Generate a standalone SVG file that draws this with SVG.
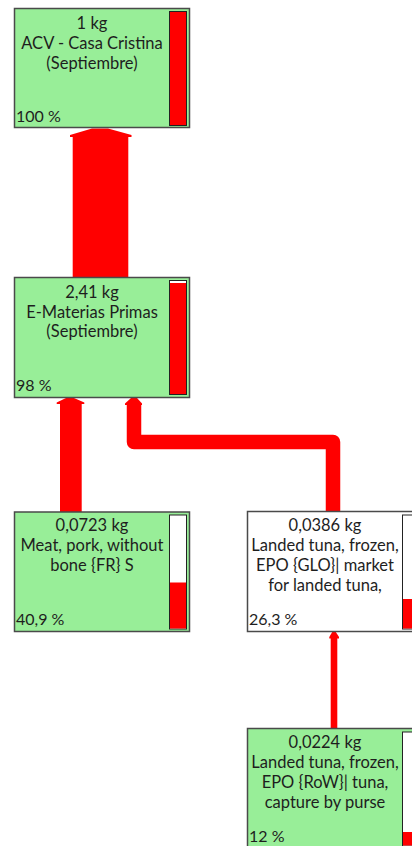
<svg xmlns="http://www.w3.org/2000/svg" width="412" height="846" viewBox="0 0 412 846">
<style>
.box{stroke:#4a4a4a;stroke-width:1.5}
.g{fill:#98ee98}
.w{fill:#ffffff}
.barbg{fill:#ffffff;stroke:#222;stroke-width:1}
.bar{fill:#ff0000}
.t{font-family:Lato,"Noto Sans",sans-serif;font-size:16.5px;fill:#1e1e1e;text-anchor:middle}
.p{font-family:Lato,"Noto Sans",sans-serif;font-size:16px;fill:#1e1e1e}
.flow{fill:#ff0000}
.line{fill:none;stroke:#ff0000;stroke-linejoin:round}
</style>
<rect width="412" height="846" fill="#ffffff"/>
<g id="connectors">
  <polygon class="flow" points="72.7,278 72.7,137 70,137 70,135 92,128.5 108,128.5 131.5,135 131.5,137 128.3,137 128.3,278"/>
  <polygon class="flow" points="60,513 60,404 56.7,404 56.7,402.5 66,398 74,398 84.3,402.5 84.3,404 81.7,404 81.7,513"/>
  <path class="line" stroke-width="14.5" d="M333,512 V442 H134 V404"/>
  <polygon class="flow" points="125,405 125,403.5 131,398 137,398 142,403.5 142,405"/>
  <rect class="flow" x="330.7" y="637" width="6.6" height="92"/>
  <polygon class="flow" points="329.3,638.5 329.3,637 332.5,631.5 335.5,631.5 339,637 339,638.5"/>
</g>
<g id="node1">
  <rect class="box g" x="14.5" y="8.5" width="175" height="119"/>
  <rect class="barbg" x="169.5" y="11.5" width="17" height="114"/>
  <rect class="bar" x="170" y="12" width="16" height="113"/>
  <text class="t" x="92" y="29">1 kg</text>
  <text class="t" x="92" y="49">ACV - Casa Cristina</text>
  <text class="t" x="92" y="68.5">(Septiembre)</text>
  <text class="p" x="16" y="122">100 %</text>
</g>
<g id="node2">
  <rect class="box g" x="14.5" y="277.5" width="175" height="120"/>
  <rect class="barbg" x="169.5" y="280.5" width="17" height="114"/>
  <rect class="bar" x="170" y="283" width="16" height="111"/>
  <text class="t" x="92" y="297.5">2,41 kg</text>
  <text class="t" x="92" y="317.5">E-Materias Primas</text>
  <text class="t" x="92" y="337">(Septiembre)</text>
  <text class="p" x="16" y="391">98 %</text>
</g>
<g id="node3">
  <rect class="box g" x="14.5" y="512" width="175" height="119.5"/>
  <rect class="barbg" x="169.5" y="515" width="17" height="114"/>
  <rect class="bar" x="170" y="582.5" width="16" height="46"/>
  <text class="t" x="92" y="531">0,0723 kg</text>
  <text class="t" x="92" y="551">Meat, pork, without</text>
  <text class="t" x="92" y="571">bone {FR} S</text>
  <text class="p" x="16" y="624.5">40,9 %</text>
</g>
<g id="node4">
  <rect class="box w" x="247.5" y="511.5" width="175" height="120"/>
  <rect class="barbg" x="402.5" y="515" width="17" height="114"/>
  <rect class="bar" x="403" y="599" width="16" height="29.5"/>
  <text class="t" x="325" y="531">0,0386 kg</text>
  <text class="t" x="325" y="551">Landed tuna, frozen,</text>
  <text class="t" x="325" y="571">EPO {GLO}| market</text>
  <text class="t" x="325" y="591">for landed tuna,</text>
  <text class="p" x="249" y="624.5">26,3 %</text>
</g>
<g id="node5">
  <rect class="box g" x="247.5" y="728.5" width="175" height="120"/>
  <rect class="barbg" x="402.5" y="732" width="17" height="114"/>
  <rect class="bar" x="403" y="832" width="16" height="13.5"/>
  <text class="t" x="325" y="748">0,0224 kg</text>
  <text class="t" x="325" y="768">Landed tuna, frozen,</text>
  <text class="t" x="325" y="788">EPO {RoW}| tuna,</text>
  <text class="t" x="325" y="808">capture by purse</text>
  <text class="p" x="249" y="842">12 %</text>
</g>
</svg>
